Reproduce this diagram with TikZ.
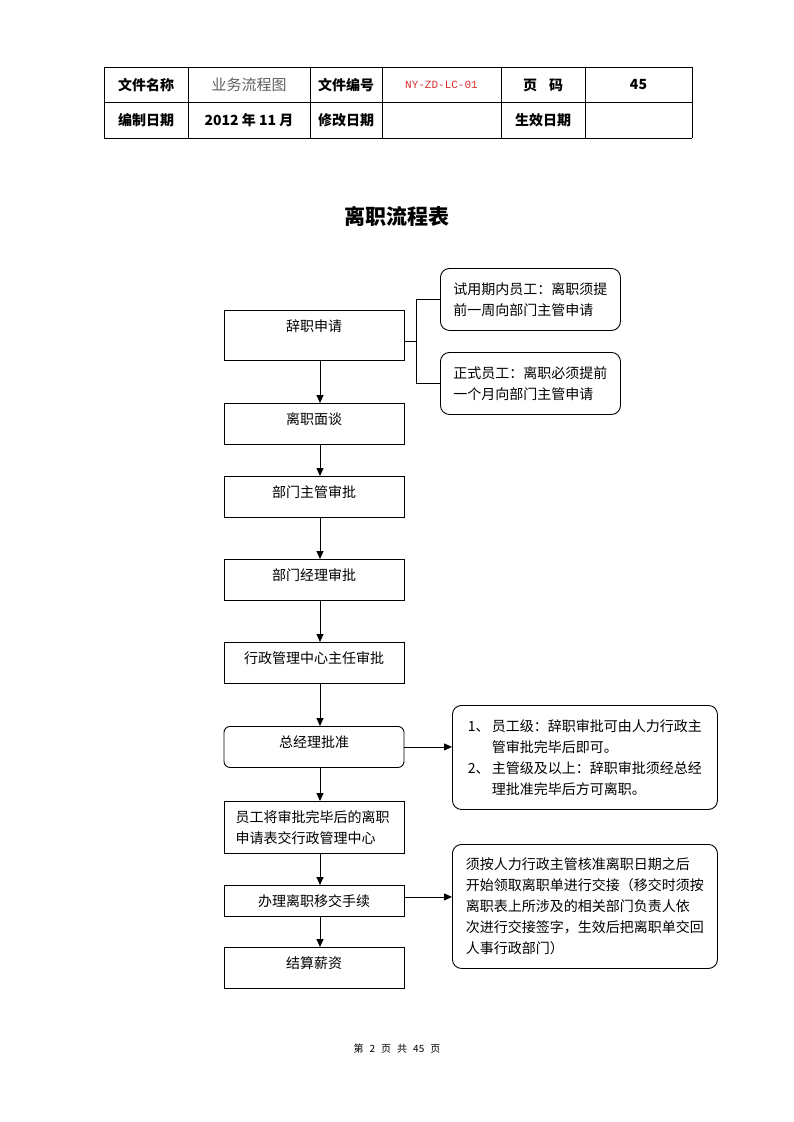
\documentclass[tikz,border=0pt]{standalone}
\usepackage{fontspec}
\setmainfont{Noto Sans CJK SC}
\newfontfamily\monofont{Liberation Mono}
\usetikzlibrary{arrows.meta}
\definecolor{red}{RGB}{215, 45, 45}
\definecolor{gray}{RGB}{95, 95, 95}

\begin{document}
\begin{tikzpicture}[x=1pt, y=-1pt,
    every node/.style={inner sep=0pt, font=\fontsize{14}{21}\selectfont},
    box/.style={draw, line width=0.9pt, minimum width=180pt, anchor=north},
    onerow/.style={box, text height=21pt, text depth=#1},
    note/.style={draw, line width=0.9pt, rounded corners=9pt, align=left, anchor=north west},
    arrow/.style={line width=0.9pt, -{Triangle[length=8pt, width=7pt]}}]
      \useasboundingbox (0,0) rectangle (793,1122);
      % header table
      \foreach \y in {67, 102, 138} {
        \draw[line width=0.8pt] (104,\y) -- (692,\y);
      }
      \foreach \x in {104, 188, 310, 382, 501, 585, 692} {
        \draw[line width=0.8pt] (\x,67) -- (\x,138);
      }
      \node (name)    at (146,85)    {\bfseries 文件名称};
      \node (nameval) at (249,85)    {\color{gray}\fontsize{15}{15}\selectfont 业务流程图};
      \node (code)    at (346,85)    {\bfseries 文件编号};
      \node (codeval) at (441.5,85)  {\color{red}\monofont\fontsize{11}{12}\selectfont NY-ZD-LC-01};
      \node (page)    at (543,85)    {\bfseries 页\hspace{12pt}码};
      \node (pageval) at (638.5,85)  {\bfseries 45};
      \node (made)    at (146,120)   {\bfseries 编制日期};
      \node (madeval) at (249,120)   {\bfseries 2012 年 11 月};
      \node (edit)    at (346,120)   {\bfseries 修改日期};
      \node (valid)   at (543,120)   {\bfseries 生效日期};
      \node (title) at (397,216) {\fontsize{21}{21}\selectfont\bfseries 离职流程表};
      % flow
      \node[onerow=29pt] (quit)     at (314,310) {辞职申请};
      \node[onerow=20pt] (talk)     at (314,403) {离职面谈};
      \node[onerow=20pt] (supv)     at (314,476) {部门主管审批};
      \node[onerow=20pt] (mgr)      at (314,559) {部门经理审批};
      \node[onerow=20pt] (admin)    at (314,642) {行政管理中心主任审批};
      \node[onerow=20pt, rounded corners=6pt] (gm) at (314,726) {总经理批准};
      \node[box, minimum height=52pt, text width=157pt, align=left] (submit) at (314,801)
        {员工将审批完毕后的离职\\申请表交行政管理中心};
      \node[onerow=10pt] (handover) at (314,885) {办理离职移交手续};
      \node[onerow=20pt] (pay)      at (314,947) {结算薪资};
      \foreach \a/\b in {quit/talk, talk/supv, supv/mgr, mgr/admin, admin/gm, gm/submit, submit/handover, handover/pay} {
        \draw[arrow] ([xshift=6pt]\a.south) -- ([xshift=6pt]\b.north);
      }
      % notes
      \node[note, minimum width=180pt, minimum height=62pt] (trial) at (440,268)
        {试用期内员工：离职须提\\前一周向部门主管申请};
      \node[note, minimum width=180pt, minimum height=62pt] (formal) at (440,352)
        {正式员工：离职必须提前\\一个月向部门主管申请};
      \node[note, minimum width=265pt, minimum height=104pt] (rule) at (452,705)
        {\makebox[24pt][l]{1、}员工级：辞职审批可由人力行政主\\
         \hspace*{24pt}管审批完毕后即可。\\
         \makebox[24pt][l]{2、}主管级及以上：辞职审批须经总经\\
         \hspace*{24pt}理批准完毕后方可离职。};
      \node[note, minimum width=265pt, minimum height=124pt] (exit) at (452,844)
        {须按人力行政主管核准离职日期之后\\开始领取离职单进行交接（移交时须按\\离职表上所涉及的相关部门负责人依\\次进行交接签字，生效后把离职单交回\\人事行政部门）};
      \draw[line width=0.9pt] ([yshift=-6pt]quit.east) -- ++(12,0);
      \draw[line width=0.9pt] (trial.west) -| ([xshift=12pt, yshift=-6pt]quit.east) |- (formal.west);
      \draw[arrow] (gm.east) -- (gm.east -| rule.west);
      \draw[arrow] ([yshift=4pt]handover.east) -- ([yshift=4pt]handover.east -| exit.west);
      % footer
      \node (pageno) at (397,1049) {\fontsize{10}{12}\selectfont
        第\hspace{6pt}2\hspace{6pt}页\hspace{6pt}共\hspace{6pt}45\hspace{6pt}页};
    \end{tikzpicture}
\end{document}
